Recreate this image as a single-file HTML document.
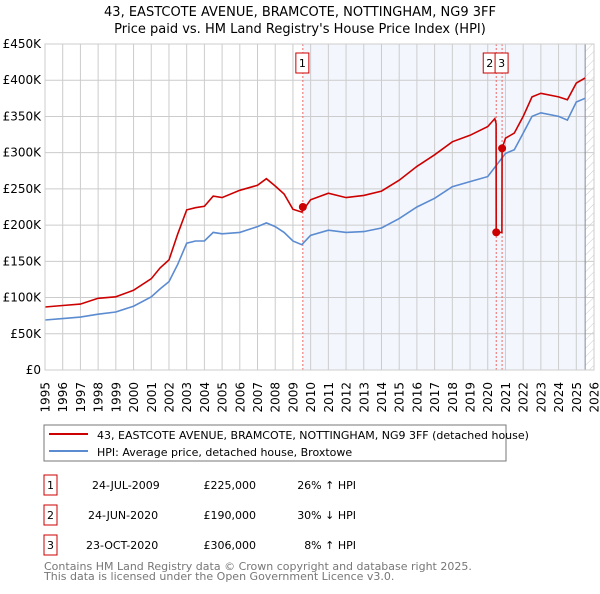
<!DOCTYPE html>
<html><head><meta charset="utf-8"><style>
body{margin:0;background:#fff;font-family:"DejaVu Sans","Liberation Sans",sans-serif;}
svg text{font-family:"DejaVu Sans","Liberation Sans",sans-serif;}
</style></head><body>
<svg id="c" width="600" height="590" viewBox="0 0 600 590">
<defs><pattern id="hatch" width="6" height="6" patternUnits="userSpaceOnUse" patternTransform="rotate(45)"><line x1="0" y1="0" x2="0" y2="6" stroke="#ccc" stroke-width="1"/></pattern></defs>
<text x="300" y="16" text-anchor="middle" font-size="13">43, EASTCOTE AVENUE, BRAMCOTE, NOTTINGHAM, NG9 3FF</text>
<text x="300" y="33" text-anchor="middle" font-size="13">Price paid vs. HM Land Registry's House Price Index (HPI)</text>
<g id="plot"></g>
<rect x="44" y="425" width="462" height="36" fill="#fff" stroke="#777"/>
<line x1="49" y1="434" x2="88" y2="434" stroke="#cc0000" stroke-width="2"/>
<text x="97" y="439" font-size="11">43, EASTCOTE AVENUE, BRAMCOTE, NOTTINGHAM, NG9 3FF (detached house)</text>
<line x1="49" y1="451" x2="88" y2="451" stroke="#5b8bd0" stroke-width="2"/>
<text x="97" y="456" font-size="11">HPI: Average price, detached house, Broxtowe</text>
<g font-size="11">
<rect x="44" y="475" width="13" height="20" fill="#fff" stroke="#cc0000"/><text x="50.5" y="489" text-anchor="middle">1</text>
<text x="92" y="489">24-JUL-2009</text><text x="256" y="489" text-anchor="end">£225,000</text><text x="356" y="489" text-anchor="end">26% ↑ HPI</text>
<rect x="44" y="505" width="13" height="20" fill="#fff" stroke="#cc0000"/><text x="50.5" y="519" text-anchor="middle">2</text>
<text x="88" y="519">24-JUN-2020</text><text x="256" y="519" text-anchor="end">£190,000</text><text x="356" y="519" text-anchor="end">30% ↓ HPI</text>
<rect x="44" y="535" width="13" height="20" fill="#fff" stroke="#cc0000"/><text x="50.5" y="549" text-anchor="middle">3</text>
<text x="86" y="549">23-OCT-2020</text><text x="256" y="549" text-anchor="end">£306,000</text><text x="356" y="549" text-anchor="end">8% ↑ HPI</text>
</g>
<text x="44" y="570" font-size="11" fill="#777">Contains HM Land Registry data © Crown copyright and database right 2025.</text>
<text x="44" y="580" font-size="11" fill="#777">This data is licensed under the Open Government Licence v3.0.</text>
</svg>
<script>
const yTicks=[0,50,100,150,200,250,300,350,400,450];
const yTickLabels=["£0","£50K","£100K","£150K","£200K","£250K","£300K","£350K","£400K","£450K"];
const xYears=[1995,1996,1997,1998,1999,2000,2001,2002,2003,2004,2005,2006,2007,2008,2009,2010,2011,2012,2013,2014,2015,2016,2017,2018,2019,2020,2021,2022,2023,2024,2025,2026];
const hpiT=[1995,1996,1997,1998,1999,2000,2001,2001.5,2002,2002.5,2003,2003.5,2004,2004.5,2005,2006,2007,2007.5,2008,2008.5,2009,2009.5,2010,2011,2012,2013,2014,2015,2016,2017,2018,2019,2020,2021,2021.5,2022,2022.5,2023,2024,2024.5,2025,2025.5];
const hpiV=[69,71,73,77,80,88,101,112,122,146,175,178,178,190,188,190,198,203,198,190,178,173,186,193,190,191,196,209,225,237,253,260,267,299,304,327,350,355,350,345,370,375];
const propT=[1995,1996,1997,1998,1999,2000,2001,2001.5,2002,2002.5,2003,2003.5,2004,2004.5,2005,2006,2007,2007.5,2008,2008.5,2009,2009.5,2010,2011,2012,2013,2014,2015,2016,2017,2018,2019,2020,2020.4,2020.47,2020.48,2020.8,2020.81,2021,2021.5,2022,2022.5,2023,2024,2024.5,2025,2025.5];
const propV=[87,89,91,99,101,110,126,141,152,188,221,224,226,240,238,248,255,264,254,243,222,218,235,244,238,241,247,262,281,297,315,324,336,347,340,190,190,306,320,327,350,377,382,377,373,396,403];
const saleT=[2009.56,2020.48,2020.81];
const saleV=[225,190,306];
const saleLabels=["1","2","3"];
const L=45,R=594,T=44,B=370;
const xs=t=>L+(t-1995)*(R-L)/31;
const ys=v=>B-v*(B-T)/450;
const NS="http://www.w3.org/2000/svg";
const g=document.getElementById('plot');
function mk(tag,a){const e=document.createElementNS(NS,tag);for(const k in a)e.setAttribute(k,a[k]);g.appendChild(e);return e;}
let e=mk('rect',{x:xs(saleT[0]),y:T,width:xs(2025.5)-xs(saleT[0]),height:B-T,fill:'#eef3fc',opacity:0.7});


e=mk('rect',{x:xs(2025.5),y:T,width:R-xs(2025.5),height:B-T,fill:'url(#hatch)'});


yTicks.forEach((v,i)=>{
 e=mk('line',{x1:L,x2:R,y1:ys(v),y2:ys(v),stroke:'#ccc','stroke-width':1});
 
 
 e=mk('text',{x:L-4,y:ys(v)+4,'text-anchor':'end','font-size':12});
 e.textContent=yTickLabels[i];
 
 
});
xYears.forEach(yr=>{
 e=mk('line',{x1:xs(yr),x2:xs(yr),y1:T,y2:B,stroke:'#ccc','stroke-width':1});
 
 
 const tx=xs(yr)+4.5, ty=B+12;
 e=mk('text',{x:tx,y:ty,'text-anchor':'end','font-size':12,transform:'rotate(-90 '+tx+' '+ty+')'});
 e.textContent=yr;
 
 
});
e=mk('line',{x1:xs(2025.5),x2:xs(2025.5),y1:T,y2:B,stroke:'#889',"stroke-width":1});


saleT.forEach((t,i)=>{
 e=mk('line',{x1:xs(t),x2:xs(t),y1:T,y2:B,stroke:'#e66','stroke-width':1,'stroke-dasharray':'2,2'});
 
 
});
const pts=(ta,va)=>ta.map((t,i)=>xs(t).toFixed(1)+','+ys(va[i]).toFixed(1)).join(' ');
e=mk('polyline',{points:pts(hpiT,hpiV),fill:'none',stroke:'#5b8bd0','stroke-width':1.6});


e=mk('polyline',{points:pts(propT,propV),fill:'none',stroke:'#cc0000','stroke-width':1.6});


saleT.forEach((t,i)=>{
 e=mk('circle',{cx:xs(t),cy:ys(saleV[i]),r:4,fill:'#cc0000'});
 
 
});
const bx=[xs(saleT[0])-7,xs(saleT[1])-13,xs(saleT[2])-7];
saleT.forEach((t,i)=>{
 e=mk('rect',{x:bx[i],y:53,width:13,height:20,fill:'#fff',stroke:'#cc0000'});
 
 
 e=mk('text',{x:bx[i]+6.5,y:67,'text-anchor':'middle','font-size':11});
 e.textContent=saleLabels[i];
 
 
});
e=mk('rect',{x:L,y:T,width:R-L,height:B-T,fill:'none',stroke:'#ccc'});


</script>
</body></html>
